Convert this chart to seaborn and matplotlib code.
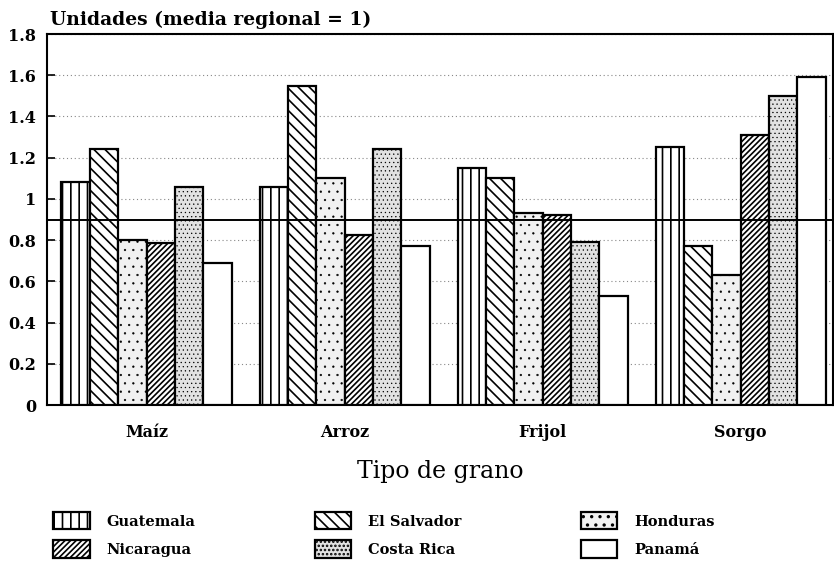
import numpy as np
import pandas as pd
import matplotlib
matplotlib.use("Agg")
import matplotlib.pyplot as plt
import seaborn as sns

granos = ["Maíz", "Arroz", "Frijol", "Sorgo"]
paises = ["Guatemala", "El Salvador", "Honduras", "Nicaragua", "Costa Rica", "Panamá"]

guatemala = [1.08, 1.06, 1.15, 1.25]
el_salvador = [1.24, 1.55, 1.10, 0.77]
honduras = [0.80, 1.10, 0.93, 0.63]
nicaragua = [0.785, 0.825, 0.92, 1.31]
costa_rica = [1.06, 1.24, 0.79, 1.50]
panama = [0.69, 0.77, 0.53, 1.59]

media_linea = 0.9

valores = [guatemala, el_salvador, honduras, nicaragua, costa_rica, panama]
rows = []
for p, vals in zip(paises, valores):
    for g, v in zip(granos, vals):
        rows.append({"Grano": g, "Pais": p, "Valor": v})
df = pd.DataFrame(rows)

sns.set_style("white")
plt.rcParams["font.family"] = ["DejaVu Serif"]
plt.rcParams["font.weight"] = "bold"
plt.rcParams["hatch.linewidth"] = 1.2
for k in ["text.color", "axes.labelcolor", "xtick.color", "ytick.color"]:
    plt.rcParams[k] = "black"

fig = plt.figure(figsize=(8.34, 5.71), dpi=100)
ax = fig.add_axes([0.0564, 0.2907, 0.9424, 0.6497])

sns.barplot(data=df, x="Grano", y="Valor", hue="Pais", order=granos,
            hue_order=paises, width=0.86, gap=0, color="white",
            edgecolor="black", linewidth=1.6, ax=ax, legend=False, zorder=3)

# relleno de cada pais: rayas, puntos o blanco
hatches = ["||", "\\\\\\", "..", "//////", "....", ""]
caras = ["white", "white", "#f1f1f1", "white", "#e2e2e2", "white"]
for cont, h, fc in zip(ax.containers, hatches, caras):
    for bar in cont.patches:
        bar.set_facecolor(fc)
        bar.set_hatch(h)
        bar.set_edgecolor("black")
        bar.set_linewidth(1.6)
        if h.startswith(".") and hasattr(bar, "set_hatch_linewidth"):
            bar.set_hatch_linewidth(0.4)

ax.axhline(media_linea, color="black", lw=1.4, zorder=5)

ax.set_ylim(0, 1.8)
ax.set_xlim(-0.503, 3.466)
ax.set_yticks(np.arange(0, 1.81, 0.2))
ax.set_yticklabels(["0", "0.2", "0.4", "0.6", "0.8", "1", "1.2", "1.4", "1.6", "1.8"])
ax.yaxis.grid(True, linestyle=(0, (1, 2.5)), color="#888888", lw=0.8, zorder=0)
ax.tick_params(axis="y", direction="in", length=6, width=1.2, left=True,
               labelsize=11.5, pad=8)
ax.tick_params(axis="x", bottom=False, labelsize=11.5, pad=10)
for lab in ax.get_xticklabels() + ax.get_yticklabels():
    lab.set_fontweight("bold")
for s in ax.spines.values():
    s.set_linewidth(1.5)
    s.set_color("black")

ax.set_ylabel("")
ax.set_xlabel("Tipo de grano", fontsize=17, labelpad=14, fontweight="normal")
fig.text(0.06, 0.965, "Unidades (media regional = 1)", fontsize=13.5,
         fontweight="bold", ha="left", va="center")

order = [0, 3, 1, 4, 2, 5]
handles = [ax.containers[i].patches[0] for i in order]
labels = [paises[i] for i in order]
fig.legend(handles, labels, ncol=3, loc="upper left",
           bbox_to_anchor=(0.055, 0.116), frameon=False, fontsize=10.5,
           handlelength=2.5, handleheight=1.45, columnspacing=8.2,
           labelspacing=0.75, handletextpad=1.15, borderpad=0)

fig.savefig("out.png", dpi=100)
